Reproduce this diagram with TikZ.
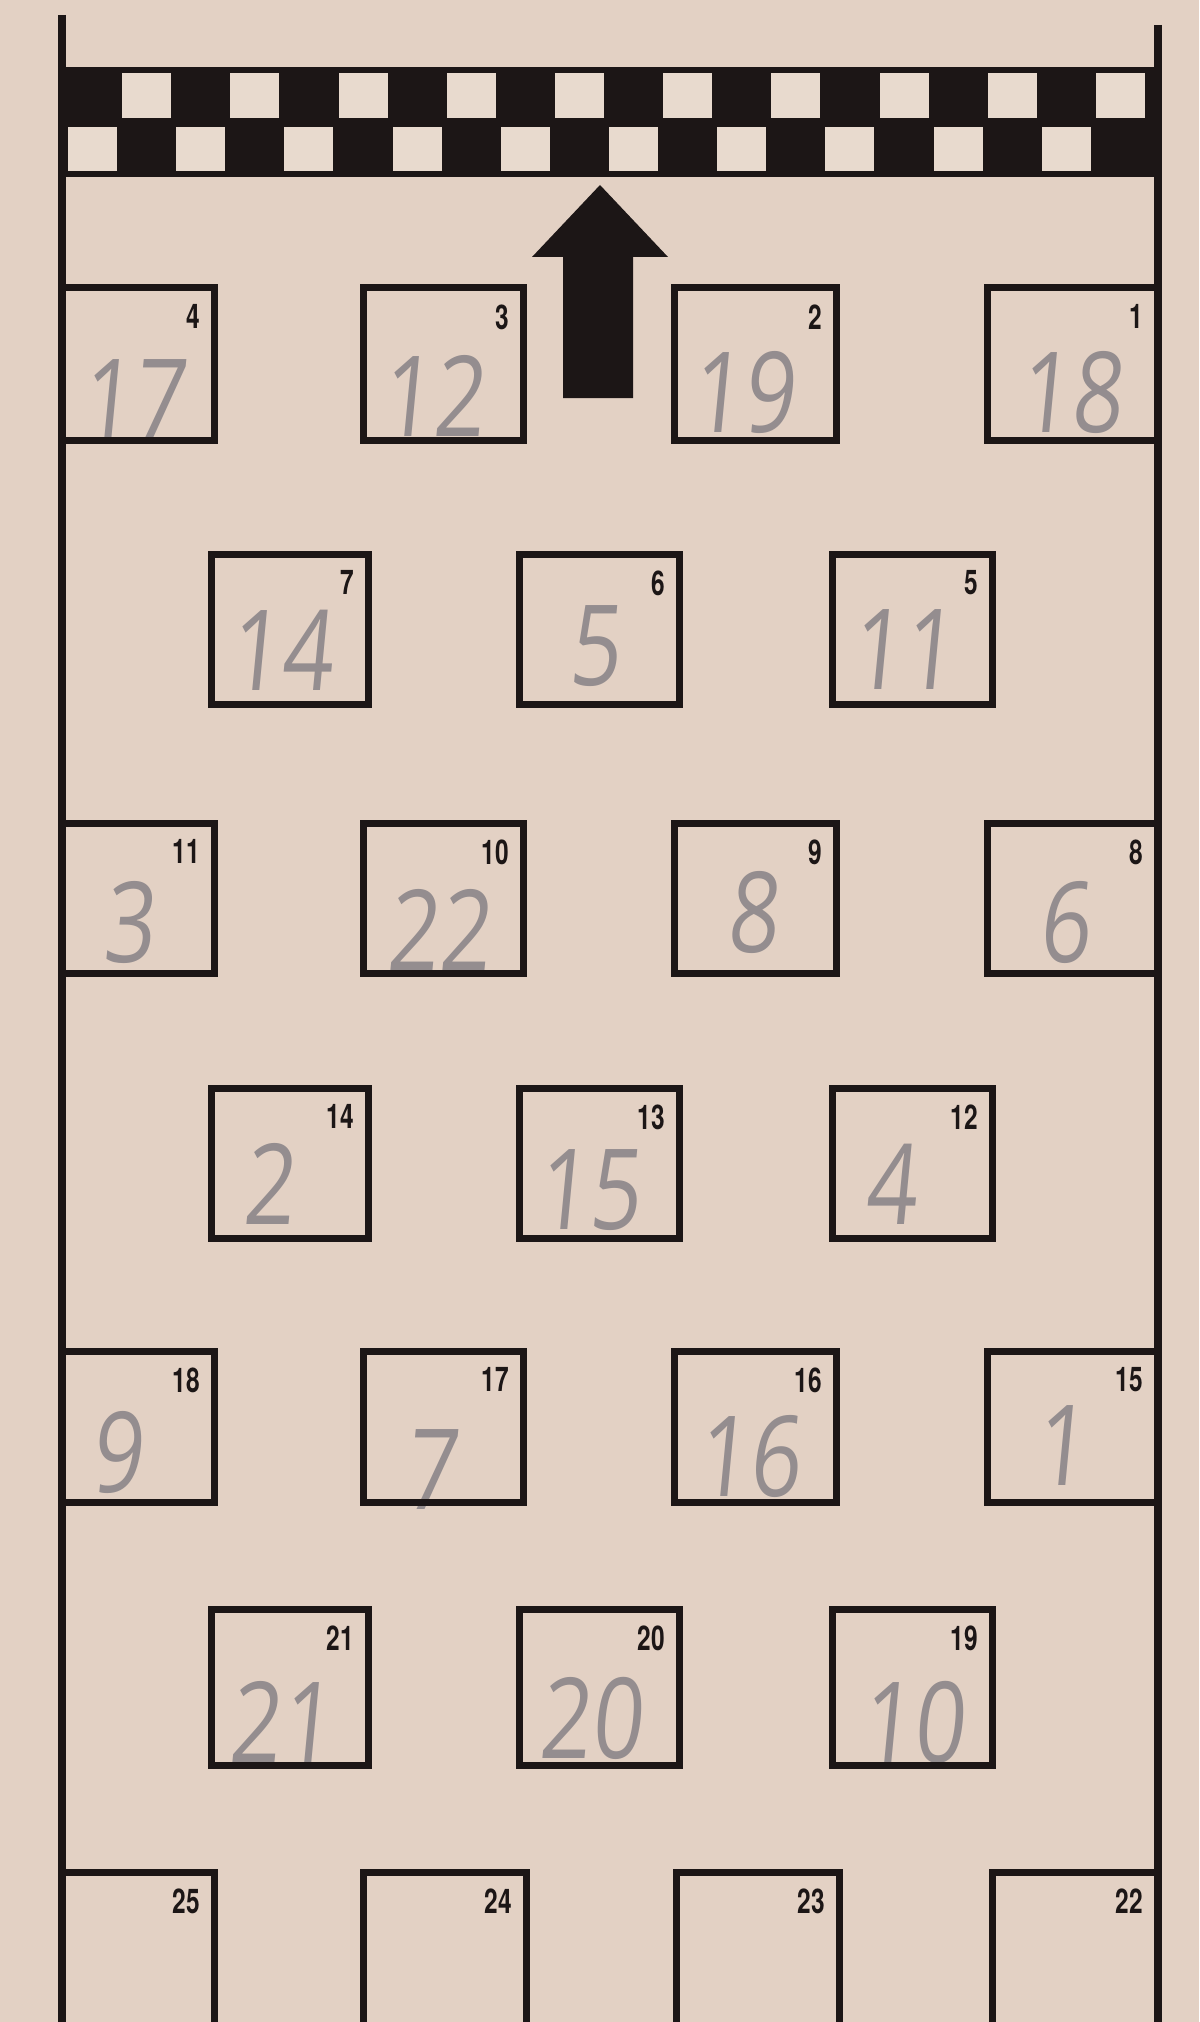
\documentclass[tikz,border=0pt]{standalone}
\usepackage{fontspec}
\setmainfont{TeX Gyre Heros}
\newfontfamily\handfont[FakeSlant=0.12]{Open Sans}
\newfontfamily\numfont{TeX Gyre Heros}
\definecolor{paper}{RGB}{227,209,196}
\definecolor{lightsq}{RGB}{232,218,206}
\definecolor{ink}{RGB}{28,22,22}
\definecolor{pencil}{RGB}{148,141,143}
\newcommand\cellbox[6]{%
  \node[cellbox, minimum width={(#4-#2)*0.5pt}, minimum height={(#5-#3)*0.5pt}] (#1) at ({(#2+#4)/2},{(#3+#5)/2}) {};
  \node[printnum, anchor=north east] (#1n) at ([xshift=-7pt,yshift=-8pt]#1.north east) {#6};
}
\begin{document}
\begin{tikzpicture}[x=0.5pt,y=-0.5pt,
  cellbox/.style={draw=ink, line width=3.5pt, inner sep=0pt, outer sep=0pt},
  printnum/.style={font=\numfont\bfseries\fontsize{17}{17}\selectfont, text=ink, inner sep=0pt, xscale=0.72},
  handnum/.style={font=\handfont\fontsize{56}{56}\selectfont, text=pencil, inner sep=0pt, xscale=0.8},
  frameline/.style={draw=ink, line width=4pt},
]
\fill[paper] (0,0) rectangle (1199,2022);
\useasboundingbox (0,0) rectangle (1199,2022);
\clip (0,0) rectangle (1199,2022);

% handwritten pencil numbers
\node[handnum] (h4) at (132,400) {17};
\node[handnum] (h3) at (432,396) {12};
\node[handnum] (h2) at (742,392) {19};
\node[handnum] (h1) at (1070,392) {18};
\node[handnum] (h7) at (280,650) {14};
\node[handnum] (h6) at (594,646) {5};
\node[handnum] (h5) at (902,650) {11};
\node[handnum] (h11) at (128,922) {3};
\node[handnum] (h10) at (438,930) {22};
\node[handnum] (h9) at (752,912) {8};
\node[handnum] (h8) at (1064,922) {6};
\node[handnum] (h14) at (268,1184) {2};
\node[handnum] (h13) at (588,1190) {15};
\node[handnum] (h12) at (890,1184) {4};
\node[handnum] (h18) at (116,1452) {9};
\node[handnum] (h17) at (430,1470) {7};
\node[handnum] (h16) at (748,1456) {16};
\node[handnum] (h15) at (1060,1446) {1};
\node[handnum] (h21) at (280,1722) {21};
\node[handnum] (h20) at (590,1718) {20};
\node[handnum] (h19) at (912,1722) {10};

% frame lines
\coordinate (lt) at (62,15);
\coordinate (lb) at (62,2040);
\coordinate (rt) at (1158,25);
\coordinate (rb) at (1158,2040);
\draw[frameline] (lt) -- (lb);
\draw[frameline] (rt) -- (rb);

% checkered finish band
\fill[ink] (60,67) rectangle (1160,177);
\foreach \i in {1,3,...,19} \fill[lightsq] ({68+\i*54.1},73) rectangle ++(49,45);
\foreach \i in {0,2,...,18} \fill[lightsq] ({68+\i*54.1},127) rectangle ++(49,44);

% arrow
\fill[ink] (600,185) -- (668,257) -- (633,257) -- (633,398) -- (563,398) -- (563,257) -- (532,257) -- cycle;

% row 1
\cellbox{b4}{62}{288}{214}{440}{4}
\cellbox{b3}{363}{288}{523}{440}{3}
\cellbox{b2}{674}{288}{836}{440}{2}
\cellbox{b1}{987}{288}{1157}{440}{1}
% row 2
\cellbox{b7}{211}{554}{368}{704}{7}
\cellbox{b6}{519}{554}{679}{704}{6}
\cellbox{b5}{832}{554}{992}{704}{5}
% row 3
\cellbox{b11}{62}{823}{214}{973}{11}
\cellbox{b10}{363}{823}{523}{973}{10}
\cellbox{b9}{674}{823}{836}{973}{9}
\cellbox{b8}{987}{823}{1157}{973}{8}
% row 4
\cellbox{b14}{211}{1088}{368}{1238}{14}
\cellbox{b13}{519}{1088}{679}{1238}{13}
\cellbox{b12}{832}{1088}{992}{1238}{12}
% row 5
\cellbox{b18}{62}{1351}{214}{1502}{18}
\cellbox{b17}{363}{1351}{523}{1502}{17}
\cellbox{b16}{674}{1351}{836}{1502}{16}
\cellbox{b15}{987}{1351}{1157}{1502}{15}
% row 6
\cellbox{b21}{211}{1609}{368}{1765}{21}
\cellbox{b20}{519}{1609}{679}{1765}{20}
\cellbox{b19}{832}{1609}{992}{1765}{19}
% row 7 (open at bottom)
\cellbox{b25}{62}{1872}{214}{2100}{25}
\cellbox{b24}{363}{1872}{526}{2100}{24}
\cellbox{b23}{676}{1872}{839}{2100}{23}
\cellbox{b22}{992}{1872}{1157}{2100}{22}
\end{tikzpicture}
\end{document}
